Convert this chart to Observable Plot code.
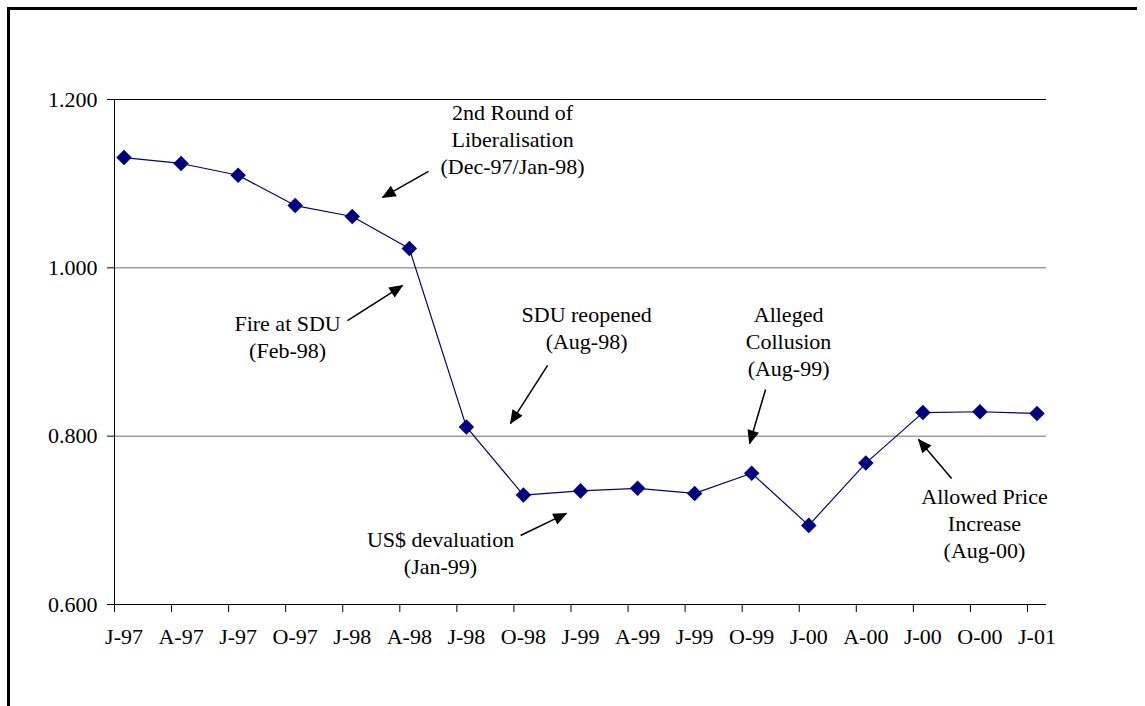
<!DOCTYPE html>
<html>
<head>
<meta charset="utf-8">
<script src="https://cdn.jsdelivr.net/npm/d3@7"></script>
<script src="https://cdn.jsdelivr.net/npm/@observablehq/plot@0.6"></script>
<style>
  html, body { margin: 0; padding: 0; background: #fff; }
  #wrap { position: relative; width: 1145px; height: 706px; overflow: hidden; }
  #frame { position: absolute; left: 7px; top: 7px; width: 1127px; height: 720px;
           border-left: 3px solid #000; border-top: 3px solid #000; pointer-events: none; }
  #chart { position: absolute; left: 0; top: 0; }
</style>
</head>
<body>
<div id="wrap"><div id="chart"></div><div id="frame"></div></div>
<script>
// ---- data ----
const tickLabels = ["J-97","A-97","J-97","O-97","J-98","A-98","J-98","O-98","J-99","A-99","J-99","O-99","J-00","A-00","J-00","O-00","J-01"];
const monthIndex = [0,3,6,9,12,15,18,21,24,27,30,33,36,39,42,45,48]; // months since Jan-97
const values = [1.131,1.124,1.110,1.074,1.061,1.023,0.811,0.730,0.735,0.738,0.732,0.756,0.694,0.768,0.828,0.829,0.827];
const yTicks = [0.6, 0.8, 1.0, 1.2];

const noteLabels = [
  "2nd Round of\nLiberalisation\n(Dec-97/Jan-98)",
  "Fire at SDU\n(Feb-98)",
  "SDU reopened\n(Aug-98)",
  "Alleged\nCollusion\n(Aug-99)",
  "US$ devaluation\n(Jan-99)",
  "Allowed Price\nIncrease\n(Aug-00)"
];
const noteX = [20.93, 9.10, 24.82, 35.44, 17.14, 45.74];
const noteY = [1.1537, 0.9196, 0.9297, 0.9137, 0.6624, 0.6981];

const arrowX1 = [16.51, 12.25, 22.77, 34.23, 21.35, 44.01];
const arrowY1 = [1.1145, 0.9374, 0.8840, 0.8555, 0.6820, 0.7498];
const arrowX2 = [14.09, 15.14, 20.82, 33.39, 23.76, 42.27];
const arrowY2 = [1.0836, 0.9790, 0.8151, 0.7913, 0.7082, 0.7961];

// ---- layout ----
const W = 1145, H = 706;
const mL = 114, mR = 99, mT = 99, mB = 102;
const xDomain = [0, 49], yDomain = [0.6, 1.2];
const FS = 22;

const series = monthIndex.map((m, i) => ({x: m + 0.5, v: values[i]}));
const notes = noteLabels.map((t, i) => ({label: t, x: noteX[i], y: noteY[i]}));
const arrows = arrowX1.map((_, i) => ({x1: arrowX1[i], y1: arrowY1[i], x2: arrowX2[i], y2: arrowY2[i]}));
const labelByPos = new Map(monthIndex.map((m, i) => [m + 0.5, tickLabels[i]]));

const xs = Plot.scale({x: {type: "linear", domain: xDomain, range: [mL, W - mR]}});
const ys = Plot.scale({y: {type: "linear", domain: yDomain, range: [H - mB, mT]}});
const angle = d => Math.atan2(ys.apply(d.y2) - ys.apply(d.y1), xs.apply(d.x2) - xs.apply(d.x1)) * 180 / Math.PI;

const headSymbol = {
  draw(ctx) { ctx.moveTo(1, 0); ctx.lineTo(-13, -6); ctx.lineTo(-13, 6); ctx.closePath(); }
};

const chart = Plot.plot({
  width: W, height: H,
  marginLeft: mL, marginRight: mR, marginTop: mT, marginBottom: mB,
  style: {fontFamily: "'Liberation Serif', 'Times New Roman', serif", fontSize: FS + "px", color: "#000", background: "#fff"},
  x: {type: "linear", domain: xDomain, axis: null},
  y: {type: "linear", domain: yDomain, axis: null},
  marks: [
    Plot.ruleY([1.2], {stroke: "#000", strokeWidth: 1}),
    Plot.ruleY([1.0, 0.8], {stroke: "#6e6e6e", strokeWidth: 1}),
    Plot.ruleY([0.6], {stroke: "#000", strokeWidth: 1}),
    Plot.ruleX([0], {y1: 0.6, y2: 1.2, stroke: "#000", strokeWidth: 1}),
    Plot.axisY({ticks: yTicks, tickFormat: d3.format(".3f"), tickSize: 7, tickPadding: 10, label: null, fontSize: FS, stroke: "#000", strokeOpacity: 1}),
    Plot.axisX({ticks: monthIndex, tickFormat: () => "", tickSize: 8, label: null, stroke: "#000", strokeOpacity: 1}),
    Plot.axisX({ticks: monthIndex.map(m => m + 0.5), tickFormat: d => labelByPos.get(d), tickSize: 0, tickPadding: 24, label: null, fontSize: FS}),
    Plot.line(series, {x: "x", y: "v", stroke: "#000080", strokeWidth: 1.2}),
    Plot.dot(series, {x: "x", y: "v", symbol: "diamond2", r: 7, fill: "#000080", stroke: "none"}),
    Plot.link(arrows, {x1: "x1", y1: "y1", x2: "x2", y2: "y2", stroke: "#000", strokeWidth: 1.5}),
    Plot.dot(arrows, {x: "x2", y: "y2", symbol: headSymbol, r: 5, fill: "#000", stroke: "none", rotate: angle}),
    Plot.text(notes, {x: "x", y: "y", text: "label", textAnchor: "middle", lineAnchor: "middle", lineHeight: 27 / FS, fontSize: FS, fill: "#000"})
  ]
});
document.getElementById("chart").appendChild(chart);
</script>
</body>
</html>
